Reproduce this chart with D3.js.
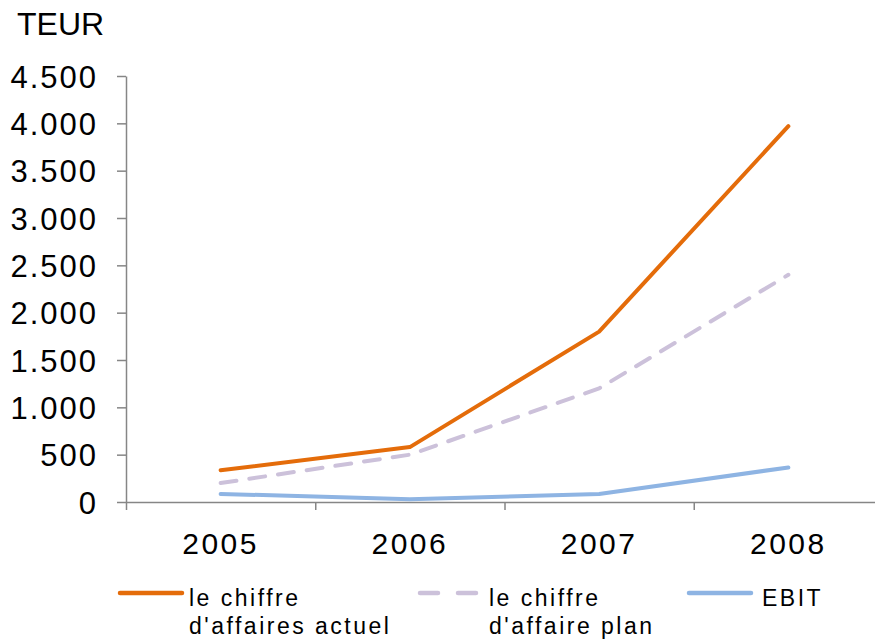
<!DOCTYPE html>
<meta charset="utf-8">
<style>
body { margin: 0; background: #fff; }
svg { font-family: "Liberation Sans", Arial, sans-serif; }
.axis path, .axis line { stroke: #868686; stroke-width: 1.5px; }
.line { fill: none; stroke-width: 4px; stroke-linejoin: round; stroke-linecap: round; }
</style>
<svg width="875" height="640"></svg>
<script src="https://cdn.jsdelivr.net/npm/d3@7"></script>
<script>

var years = ["2005", "2006", "2007", "2008"];
var actual = [335, 580, 1800, 3970];
var plan = [200, 500, 1200, 2400];
var ebit = [85, 30, 85, 365];
var yTicks = [0, 500, 1000, 1500, 2000, 2500, 3000, 3500, 4000, 4500];

var series = [
  {name: ["le chiffre", "d'affaires actuel"], values: actual, color: "#e46c0a", dash: null},
  {name: ["le chiffre", "d'affaire plan"], values: plan, color: "#ccc1da", dash: "16,13"},
  {name: ["EBIT"], values: ebit, color: "#8eb4e3", dash: null}
];

var svg = d3.select("svg"),
    plotLeft = 126, plotRight = 883, plotTop = 76, plotBottom = 502;

var x = d3.scaleBand().domain(years).range([plotLeft, plotRight]),
    xEdge = d3.scaleLinear().domain([0, years.length]).range([plotLeft, plotRight]),
    y = d3.scaleLinear().domain([0, 4500]).range([plotBottom, plotTop]);

var fmt = function(d) { return d3.format(",")(d).replace(/,/g, "."); };

// y axis
var yAxis = svg.append("g")
    .attr("class", "axis")
    .attr("transform", "translate(" + plotLeft + ",0)")
    .call(d3.axisLeft(y).tickValues(yTicks).tickSize(9).tickSizeOuter(0).tickPadding(19).tickFormat(fmt));
yAxis.selectAll("text")
    .style("font-size", "31px")
    .style("letter-spacing", "2px")
    .attr("fill", "#000")
    .attr("dy", "0.36em");

// x axis (ticks between categories)
svg.append("g")
    .attr("class", "axis")
    .attr("transform", "translate(0," + plotBottom + ")")
    .call(d3.axisBottom(xEdge).tickValues(d3.range(years.length + 1)).tickSize(8).tickSizeOuter(0).tickFormat(""));

svg.append("g").selectAll("text")
    .data(years)
    .enter().append("text")
    .attr("x", function(d) { return x(d) + x.bandwidth() / 2; })
    .attr("y", 554)
    .attr("text-anchor", "middle")
    .style("font-size", "30px")
    .style("letter-spacing", "2.5px")
    .text(function(d) { return d; });

svg.append("text")
    .attr("x", 17)
    .attr("y", 35)
    .style("font-size", "32px")
    .text("TEUR");

var line = d3.line()
    .x(function(d, i) { return x(years[i]) + x.bandwidth() / 2; })
    .y(function(d) { return y(d); });

svg.selectAll(".line")
  .data(series.slice().reverse())
  .enter().append("path")
    .attr("class", "line")
    .attr("d", function(d) { return line(d.values); })
    .style("stroke", function(d) { return d.color; })
    .style("stroke-dasharray", function(d) { return d.dash; });

// legend
var legX = [120, 420, 689];
var leg = svg.selectAll(".legend")
  .data(series)
  .enter().append("g")
    .attr("class", "legend")
    .attr("transform", function(d, i) { return "translate(" + legX[i] + ",593)"; });

leg.append("line")
    .attr("x1", 0).attr("x2", 62)
    .attr("stroke", function(d) { return d.color; })
    .attr("stroke-width", 4.5)
    .attr("stroke-linecap", "round")
    .style("stroke-dasharray", function(d) { return d.dash ? "18,20" : null; });

leg.append("text")
    .attr("x", function(d, i) { return i == 2 ? 73 : 69; })
    .attr("y", 13)
    .style("font-size", "23px")
    .style("letter-spacing", "2.5px")
    .selectAll("tspan")
    .data(function(d) { return d.name; })
    .enter().append("tspan")
      .attr("x", function() { return d3.select(this.parentNode).attr("x"); })
      .attr("dy", function(d, i) { return i ? 28 : 0; })
      .text(function(d) { return d; });

</script>
